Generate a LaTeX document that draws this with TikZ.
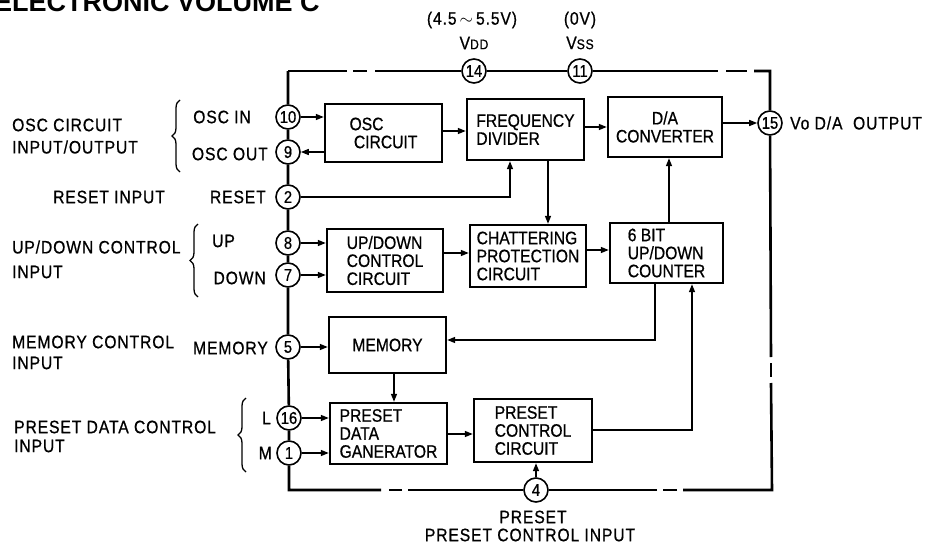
\documentclass[tikz,border=0pt]{standalone}
\usepackage{fontspec}
\setmainfont[FakeStretch=0.87,FakeBold=0.7]{Liberation Sans}
\newfontfamily\lblfont[FakeStretch=0.87,FakeBold=0.7,LetterSpace=5]{Liberation Sans}
\newfontfamily\hdrfont{Liberation Sans}
\usetikzlibrary{arrows.meta,decorations.pathreplacing}
\tikzset{
  blk/.style={draw, line width=2.4pt, inner sep=0pt, align=left, font=\fontsize{18}{18}\selectfont},
  pin/.style={draw, circle, line width=1.6pt, minimum size=24pt, inner sep=0pt, fill=white, font=\fontsize{17}{17}\selectfont},
  outl/.style={line width=2.6pt},
  arr/.style={line width=1.4pt, -{Triangle[length=8pt,width=6pt]}},
  lbl/.style={inner sep=0pt, font=\lblfont\fontsize{18}{18}\selectfont},
  brc/.style={line width=1.3pt, decorate, decoration={brace, amplitude=8pt}}
}
\begin{document}
\begin{tikzpicture}[x=1pt,y=-1pt]
\clip (0,0) rectangle (930,546);
\fill[white] (0,0) rectangle (930,546);

% header (cut off at the top)
\node[inner sep=0pt, anchor=base west, font=\hdrfont\bfseries\fontsize{27}{27}\selectfont] (hdr) at (-6,12) {ELECTRONIC VOLUME C};

% corners of the chip outline
\coordinate (tl) at (288,71);
\coordinate (tr) at (770,71);
\coordinate (br) at (772,490);
\coordinate (bl) at (289,490);

% pins
\node[pin] (p14) at (474,71) {14};
\node[pin] (p11) at (580,71) {11};
\node[pin] (p15) at (770,123) {15};
\node[pin] (p10) at (288,117) {10};
\node[pin] (p9)  at (288,152) {9};
\node[pin] (p2)  at (288,197) {2};
\node[pin] (p8)  at (288,243) {8};
\node[pin] (p7)  at (288,275) {7};
\node[pin] (p5)  at (288,347) {5};
\node[pin] (p16) at (289,418) {16};
\node[pin] (p1)  at (289,453) {1};
\node[pin] (p4)  at (536,490) {4};

% outline with dashed breaks
\draw[outl] (tl) -- (347,71);
\draw[outl] (353,71) -- (367,71);
\draw[outl] (375,71) -- (p14) -- (p11) -- (718,71);
\draw[outl] (726,71) -- (747,71);
\draw[outl] (754,71) -- (tr) -- (p15) -- (771,357);
\draw[outl] (771,363) -- (771,377);
\draw[outl] (771,383) -- (br) -- (683,490);
\draw[outl] (677,490) -- (663,490);
\draw[outl] (657,490) -- (p4) -- (408,490);
\draw[outl] (402,490) -- (389,490);
\draw[outl] (381,490) -- (bl) -- (p1) -- (p16) -- (p5) -- (p7) -- (p8) -- (p2) -- (p9) -- (p10) -- (tl);

% blocks
\node[blk, minimum width=117pt, minimum height=58pt] (osc) at (383.5,133) {OSC\\\ CIRCUIT};
\node[blk, minimum width=117pt, minimum height=61pt] (fd)  at (525.5,129.5) {FREQUENCY\\DIVIDER};
\node[blk, minimum width=114pt, minimum height=60pt, align=center] (da) at (665,127) {D/A\\CONVERTER};
\node[blk, minimum width=116pt, minimum height=63pt] (udc) at (385,260.5) {UP/DOWN\\CONTROL\\CIRCUIT};
\node[blk, minimum width=116pt, minimum height=62pt] (ch)  at (528,256) {CHATTERING\\PROTECTION\\CIRCUIT};
\node[blk, minimum width=113pt, minimum height=60pt] (cnt) at (666.5,253) {6 BIT\\UP/DOWN\\COUNTER};
\node[blk, minimum width=117pt, minimum height=56pt, align=center] (mem) at (387.5,345) {MEMORY};
\node[blk, minimum width=117pt, minimum height=61pt] (pdg) at (388.5,433.5) {PRESET\\DATA\\GANERATOR};
\node[blk, minimum width=118pt, minimum height=63pt] (pcc) at (533,430.5) {PRESET\\CONTROL\\CIRCUIT};

% helper x positions
\coordinate (x510) at (510,0);
\coordinate (x548) at (548,0);
\coordinate (x669) at (669,0);
\coordinate (x655) at (655,0);
\coordinate (x394) at (394,0);
\coordinate (x692) at (692,0);

% connectors
\draw[arr] (p10) -- (p10 -| osc.west);
\draw[arr] (osc.west |- p9) -- (p9);
\draw[arr] (osc.east |- 0,131) -- (fd.west |- 0,131);
\draw[arr] (fd.east |- 0,127) -- (da.west |- 0,127);
\draw[arr] (da.east |- p15) -- (p15);
\draw[arr] (p2) -| (fd.south -| x510);
\draw[arr] (fd.south -| x548) -- (ch.north -| x548);
\draw[arr] (p8) -- (p8 -| udc.west);
\draw[arr] (p7) -- (p7 -| udc.west);
\draw[arr] (udc.east |- 0,253) -- (ch.west |- 0,253);
\draw[arr] (ch.east |- 0,250) -- (cnt.west |- 0,250);
\draw[arr] (cnt.north -| x669) -- (da.south -| x669);
\draw[arr] (cnt.south -| x655) |- (mem.east |- 0,340);
\draw[arr] (p5) -- (p5 -| mem.west);
\draw[arr] (mem.south -| x394) -- (pdg.north -| x394);
\draw[arr] (p16) -- (p16 -| pdg.west);
\draw[arr] (p1) -- (p1 -| pdg.west);
\draw[arr] (pdg.east |- 0,434) -- (pcc.west |- 0,434);
\draw[arr] (pcc.east |- 0,430) -| (cnt.south -| x692);
\draw[arr] (p4) -- (pcc.south -| p4);

% supply labels
\node[lbl] (vddv) at (472,20) {(4.5\,$\sim$\,5.5V)};
\node[lbl] (vdd)  at (474,43) {V{\fontsize{14}{14}\selectfont DD}};
\node[lbl] (vssv) at (580,20) {(0V)};
\node[lbl] (vss)  at (580,43) {V{\fontsize{14}{14}\selectfont SS}};

% output label
\node[lbl, anchor=west] (out) at (790,123) {Vo D/A\ \ OUTPUT};

% left pin labels
\node[lbl, anchor=east] (l10) at (251,117) {OSC IN};
\node[lbl, anchor=east] (l9)  at (268,154) {OSC OUT};
\node[lbl, anchor=east] (l2)  at (266,197) {RESET};
\node[lbl, anchor=west] (l8)  at (212,241) {UP};
\node[lbl, anchor=east] (l7)  at (266,278) {DOWN};
\node[lbl, anchor=east] (l5)  at (268,348) {MEMORY};
\node[lbl, anchor=east] (l16) at (271,418) {L};
\node[lbl, anchor=east] (l1)  at (272,453) {M};

% left group labels
\node[lbl, anchor=west] (g1a) at (12,125) {OSC CIRCUIT};
\node[lbl, anchor=west] (g1b) at (12,147) {INPUT/OUTPUT};
\node[lbl, anchor=west] (g2)  at (53,197) {RESET INPUT};
\node[lbl, anchor=west] (g3a) at (12,247) {UP/DOWN CONTROL};
\node[lbl, anchor=west] (g3b) at (12,272) {INPUT};
\node[lbl, anchor=west] (g4a) at (12,342) {MEMORY CONTROL};
\node[lbl, anchor=west] (g4b) at (12,363) {INPUT};
\node[lbl, anchor=west] (g5a) at (14,427) {PRESET DATA CONTROL};
\node[lbl, anchor=west] (g5b) at (14,446) {INPUT};

% braces
\draw[brc] (180,172) -- (180,100);
\draw[brc] (198,297) -- (198,224);
\draw[brc] (246,472) -- (246,398);

% bottom labels
\node[lbl] (b1) at (533,517) {PRESET};
\node[lbl] (b2) at (530,535) {PRESET CONTROL INPUT};
\end{tikzpicture}
\end{document}
